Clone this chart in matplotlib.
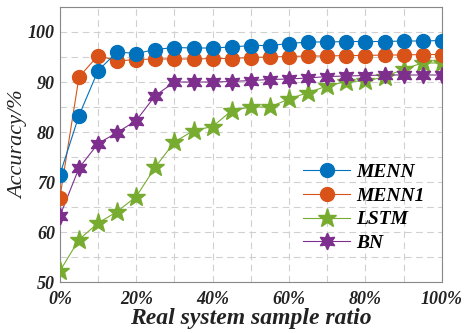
import matplotlib
matplotlib.use("Agg")
import matplotlib.pyplot as plt
import numpy as np

ratio = [0, 5, 10, 15, 20, 25, 30, 35, 40, 45, 50, 55, 60, 65, 70, 75, 80, 85, 90, 95, 100]
menn = [71.5, 83.3, 92.3, 96.0, 95.7, 96.5, 96.9, 96.8, 96.8, 97.0, 97.3, 97.3, 97.7, 98.0, 98.0, 98.1, 98.1, 98.1, 98.2, 98.2, 98.3]
menn1 = [66.9, 91.0, 95.3, 94.2, 94.5, 94.6, 94.6, 94.6, 94.7, 94.7, 94.9, 95.0, 95.1, 95.2, 95.2, 95.3, 95.3, 95.4, 95.4, 95.5, 95.5]
lstm = [52.2, 58.5, 61.8, 64.1, 67.1, 73.0, 78.0, 80.3, 81.1, 84.3, 85.0, 85.0, 86.6, 87.9, 89.2, 90.1, 90.2, 91.0, 92.6, 93.8, 93.8]
bn = [63.2, 72.8, 77.7, 79.9, 82.3, 87.3, 90.0, 90.0, 90.0, 90.1, 90.3, 90.5, 90.6, 90.8, 91.1, 91.2, 91.3, 91.4, 91.4, 91.4, 91.4]

xticks = [0, 20, 40, 60, 80, 100]
xticklabels = ["0%", "20%", "40%", "60%", "80%", "100%"]
yticks = [50, 60, 70, 80, 90, 100]

plt.rcParams['font.family'] = ['Liberation Serif', 'DejaVu Serif']

fig = plt.figure(figsize=(4.68, 3.33), dpi=100)
ax = fig.add_axes([0.128, 0.153, 0.816, 0.826])

c_blue = '#0072BD'
c_orange = '#D95319'
c_green = '#77AC30'
c_purple = '#7E2F8E'

ax.plot(ratio, menn, '-', color=c_blue, lw=0.8, marker='o', ms=10, mfc=c_blue, mec=c_blue, label='MENN', zorder=5)
ax.plot(ratio, menn1, '-', color=c_orange, lw=0.8, marker='o', ms=10, mfc=c_orange, mec=c_orange, label='MENN1', zorder=4)
ax.plot(ratio, lstm, '-', color=c_green, lw=0.8, marker='*', ms=14, mfc=c_green, mec=c_green, label='LSTM', zorder=3)
ax.plot(ratio, bn, '-', color=c_purple, lw=0.8, marker=(6, 1, 0), ms=12, mfc=c_purple, mec=c_purple, label='BN', zorder=3)

ax.set_xlim(0, 100)
ax.set_ylim(50, 105)
ax.set_xticks(xticks)
ax.set_xticklabels(xticklabels)
ax.set_yticks(yticks)
ax.set_xticks(np.arange(0, 101, 10), minor=True)
ax.set_yticks(np.arange(50, 106, 5), minor=True)

ax.grid(True, which='both', linestyle=(0, (6, 4)), color='#d0d0d0', lw=0.8)
ax.set_axisbelow(True)
ax.tick_params(which='both', direction='in', length=0, colors='#555555')
ax.tick_params(axis='x', pad=6.5)
for lab in ax.get_xticklabels() + ax.get_yticklabels():
    lab.set_fontsize(13)
    lab.set_fontweight('bold')
    lab.set_fontstyle('italic')
    lab.set_color('#222222')
for s in ax.spines.values():
    s.set_color('#888888')
    s.set_linewidth(0.8)

ax.set_xlabel('Real system sample ratio', fontsize=17, fontweight='bold', fontstyle='italic', color='#222222', labelpad=0)
ax.set_ylabel('Accuracy/%', fontsize=16, fontstyle='italic', color='#222222', labelpad=0)

leg = ax.legend(loc='lower right', bbox_to_anchor=(1.0, 0.045), frameon=False,
                prop={'family': 'Liberation Serif', 'weight': 'bold', 'style': 'italic', 'size': 14},
                handlelength=2.4, labelspacing=0.32, handletextpad=0.3)

fig.savefig('out.png', dpi=100)
